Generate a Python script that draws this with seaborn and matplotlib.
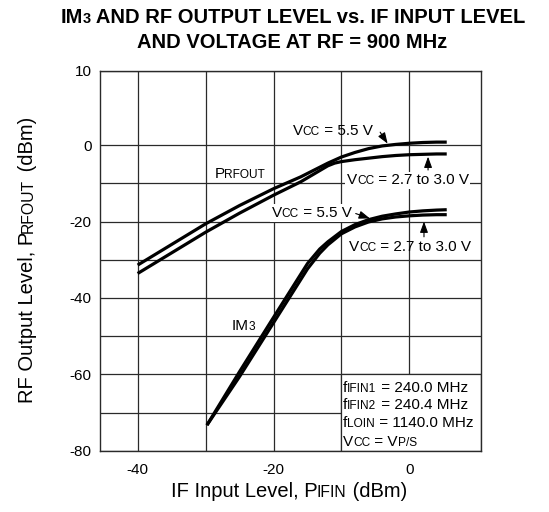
import matplotlib
matplotlib.use('Agg')
import matplotlib.pyplot as plt
import matplotlib.transforms as mtransforms
from matplotlib.patches import Rectangle
from matplotlib.ticker import FixedLocator
from matplotlib.font_manager import findfont, FontProperties
from matplotlib.ft2font import FT2Font
import seaborn as sns

# ---------------- data ----------------
prfout_x = [-40, -35, -30, -25, -20, -16, -12, -11, -10, -8, -6, -4, -2, 0, 2, 4, 5.5]
prfout_vcc55 = [-31.4, -26.0, -20.6, -15.8, -11.4, -8.3, -4.7, -3.9, -3.1, -1.9, -0.9, -0.2, 0.2, 0.5, 0.7, 0.8, 0.8]
prfout_vcc27 = [-33.6, -28.2, -22.8, -17.8, -13.1, -9.6, -5.4, -4.7, -4.3, -3.8, -3.4, -3.0, -2.7, -2.5, -2.4, -2.3, -2.3]

im3_x = [-29.8, -25, -20, -15, -13.2, -12, -10, -8, -6, -4, -2, 0, 2, 4, 5.5]
im3_vcc55 = [-73.3, -59.3, -45.1, -31.0, -27.2, -25.3, -22.6, -20.8, -19.5, -18.6, -18.0, -17.5, -17.2, -17.0, -16.9]
im3_vcc27 = [-73.3, -60.6, -46.5, -32.4, -28.3, -26.1, -23.2, -21.4, -20.1, -19.3, -18.8, -18.5, -18.3, -18.2, -18.2]

x_major_ticks = [-40, -20, 0]
x_tick_labels = ['-40', '-20', '0']
x_minor_ticks = [-30, -10]
y_major_ticks = [-80, -60, -40, -20, 0, 19.5]
y_tick_labels = ['-80', '-60', '-40', '-20', '0', '10']
y_minor_ticks = [-70, -50, -30, -10]

# ---------------- style ----------------
sns.set_theme(style='white')
FAMILY = 'Liberation Sans'
plt.rcParams['font.family'] = [FAMILY, 'DejaVu Sans']

W, H = 549, 512
fig = plt.figure(figsize=(W / 100, H / 100), dpi=100)
ax = fig.add_axes([100.3 / W, 1 - 450.7 / H, (480.7 - 100.3) / W, (450.7 - 70.7) / H])
ax.set_xlim(-45.5, 10.5)
ax.set_ylim(-80, 19.5)

GRID = '#2a2a2a'
ax.xaxis.set_major_locator(FixedLocator(x_major_ticks))
ax.xaxis.set_minor_locator(FixedLocator(x_minor_ticks))
ax.yaxis.set_major_locator(FixedLocator(y_major_ticks))
ax.yaxis.set_minor_locator(FixedLocator(y_minor_ticks))
ax.set_xticklabels(x_tick_labels)
ax.set_yticklabels(y_tick_labels)
ax.grid(True, which='both', color=GRID, linewidth=0.9)
ax.set_axisbelow(True)
ax.tick_params(which='both', length=0)
ax.tick_params(axis='x', pad=8.5, labelsize=11, colors='black')
ax.tick_params(axis='y', pad=6.2, labelsize=11, colors='black')
for sp in ax.spines.values():
    sp.set_visible(True)
    sp.set_color(GRID)
    sp.set_linewidth(1.0)

# ---------------- curves ----------------
for xs, ys in [(prfout_x, prfout_vcc55), (prfout_x, prfout_vcc27),
               (im3_x, im3_vcc55), (im3_x, im3_vcc27)]:
    sns.lineplot(x=xs, y=ys, ax=ax, color='black', linewidth=2.3,
                 solid_capstyle='butt', solid_joinstyle='round', zorder=3)

# conditions box (white, bordered by grid lines)
ax.add_patch(Rectangle((-10, -80), 20.5, 20, facecolor='white', edgecolor=GRID,
                       linewidth=0.9, zorder=2.5))

# ---------------- rich text helper (small caps) ----------------
IDENT = mtransforms.IdentityTransform()
_fonts = {}


def text_width(s, fs, weight):
    key = weight
    if key not in _fonts:
        path = findfont(FontProperties(family=FAMILY, weight=weight))
        _fonts[key] = FT2Font(path, hinting_factor=1)
    font = _fonts[key]
    font.set_size(fs, 100)
    total = 0.0
    for c in s:
        g = font.load_char(ord(c))
        total += g.linearHoriAdvance / 65536
    return total


def rich(target, x, y, pieces, size, weight='normal', ratio=0.78, rotation=0,
         center=False, bg=False, zorder=5):
    ws = []
    for s, small in pieces:
        fs = size * ratio if small else size
        ws.append(text_width(s, fs, weight))
    total = sum(ws)
    off = -total / 2 if center else 0.0
    start = off
    for (s, small), w in zip(pieces, ws):
        fs = size * ratio if small else size
        px, py = (x + off, y) if rotation == 0 else (x, y + off)
        target.text(px, py, s, transform=IDENT, fontsize=fs, fontweight=weight,
                    rotation=rotation, rotation_mode='anchor', ha='left',
                    va='baseline', color='black', zorder=zorder)
        off += w
    if bg:
        fpx = size * 100 / 72
        pad = 1.5
        target.add_patch(Rectangle((x + start - pad, y - 0.22 * fpx - pad),
                                   total + 2 * pad, 0.94 * fpx + 2 * pad,
                                   transform=IDENT, facecolor='white',
                                   edgecolor='none', zorder=zorder - 0.5))


def rich_data(xd, yd, pieces, size=11, **kw):
    X, Y = ax.transData.transform((xd, yd))
    rich(ax, X, Y, pieces, size, **kw)


# ---------------- annotations ----------------
rich_data(-17.2, 2.6, [('V', 0), ('CC', 1), (' = 5.5 V', 0)])
rich_data(-9.2, -10.2, [('V', 0), ('CC', 1), (' = 2.7 to 3.0 V', 0)], bg=True)
rich_data(-20.3, -18.8, [('V', 0), ('CC', 1), (' = 5.5 V', 0)], bg=True)
rich_data(-8.9, -27.7, [('V', 0), ('CC', 1), (' = 2.7 to 3.0 V', 0)])
rich_data(-28.7, -8.6, [('P', 0), ('RFOUT', 1)])
rich_data(-26.1, -48.4, [('IM', 0), ('3', 1)])

rich_data(-9.75, -64.6, [('f', 0), ('IFIN1', 1), (' = 240.0 MHz', 0)])
rich_data(-9.75, -69.2, [('f', 0), ('IFIN2', 1), (' = 240.4 MHz', 0)])
rich_data(-9.75, -73.9, [('f', 0), ('LOIN', 1), (' = 1140.0 MHz', 0)])
rich_data(-9.75, -78.8, [('V', 0), ('CC', 1), (' = V', 0), ('P/S', 1)])

arrow_kw = dict(arrowstyle='-|>,head_length=0.55,head_width=0.2', color='black',
                lw=0.8, shrinkA=0, shrinkB=0)
for tail, tip in [((-4.3, 3.4), (-3.2, 0.4)),
                  ((2.75, -6.5), (2.75, -3.0)),
                  ((-7.9, -17.9), (-5.8, -19.2)),
                  ((2.15, -24.0), (2.15, -20.0))]:
    ax.annotate('', xy=tip, xytext=tail, arrowprops=arrow_kw, zorder=4)

# ---------------- title and axis labels ----------------
rich(fig, 291.5, 489.3, [('IM', 0), ('3', 1), (' AND RF OUTPUT LEVEL vs. IF INPUT LEVEL', 0)],
     14.5, weight='bold', ratio=0.72, center=True)
rich(fig, 293, 464.3, [('AND VOLTAGE AT RF = 900 MHz', 0)], 14.5, weight='bold', center=True)
rich(fig, 289, 15.3, [('IF Input Level, P', 0), ('IFIN', 1), (' (dBm)', 0)], 14.5, center=True)
rich(fig, 33, 252, [('RF Output Level, P', 0), ('RFOUT', 1), (' (dBm)', 0)], 14.5,
     rotation=90, center=True)

fig.savefig('out.png', dpi=100)
